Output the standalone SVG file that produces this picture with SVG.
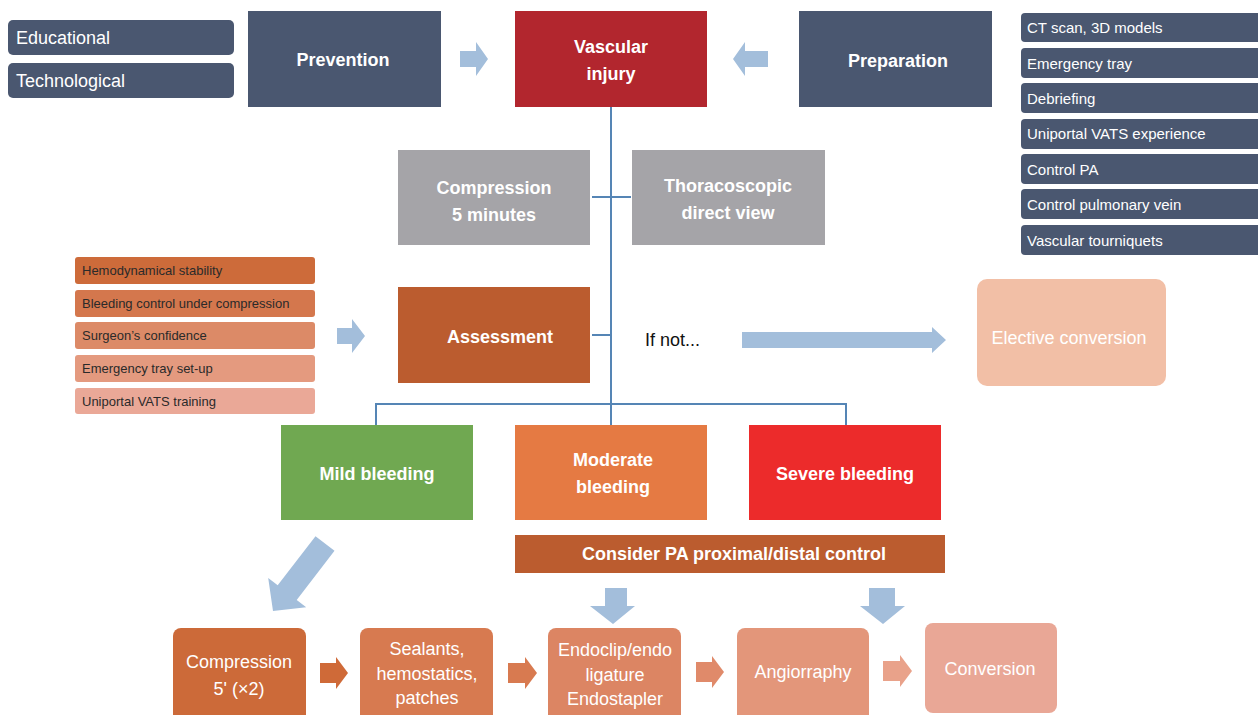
<svg xmlns="http://www.w3.org/2000/svg" width="1258" height="715" viewBox="0 0 1258 715">
<style>
text{font-family:"Liberation Sans",Arial,sans-serif;}
.b{font-weight:bold;font-size:18px;fill:#fff;text-anchor:middle;}
.w{font-size:18px;fill:#fff;text-anchor:middle;}
.lst{font-size:15px;fill:#fff;}
.sm{font-size:13px;fill:#2a2a2a;}
.navy{fill:#4a5770;}
.arr{fill:#a3bedb;}
.ln{stroke:#5585b5;stroke-width:2;fill:none;}
</style>
<rect width="1258" height="715" fill="#fff"/>
<g id="connectors">
<path class="ln" d="M611,107 V425 M592,197 H631 M592,335 H611 M376,425 V404 H846 V425"/>
<path class="arr" d="M460,51 H476 V42 L488,59 L476,76 V67 H460 Z"/>
<path class="arr" d="M768,51 H745 V42 L733,59 L745,76 V67 H768 Z"/>
<path class="arr" d="M337,328 H352 V319 L365,336 L352,353 V344 H337 Z"/>
<path class="arr" d="M742,332 H932 V327 L946,340 L932,353 V348 H742 Z"/>
<path class="arr" d="M315.5,536.2 L334.5,550.8 L296.7,599.9 L306.2,607.2 L273,611 L268.2,578 L277.7,585.3 Z"/>
<path class="arr" d="M605,588 H627 V606 H635 L613,624 L590,606 H605 Z"/>
<path class="arr" d="M869,588 H895 V606 H905 L883,624 L860,606 H869 Z"/>
<path fill="#cf6a38" d="M320,663 H336 V657 L348,673 L336,689 V683 H320 Z"/>
<path fill="#d87a50" d="M508,663 H525 V657 L537,673 L525,689 V683 H508 Z"/>
<path fill="#e08a6a" d="M696,662 H712 V656 L724,672 L712,688 V682 H696 Z"/>
<path fill="#e9a28a" d="M883,661 H900 V655 L912,671 L900,687 V681 H883 Z"/>
</g>
<g id="educational"><rect class="navy" x="8" y="20" width="226" height="35" rx="5"/><text class="lst" x="16" y="44" style="font-size:18px">Educational</text></g>
<g id="technological"><rect class="navy" x="8" y="63" width="226" height="35" rx="5"/><text class="lst" x="16" y="87" style="font-size:18px">Technological</text></g>
<g id="prevention"><rect class="navy" x="248" y="11" width="193" height="96"/><text class="b" x="343" y="66">Prevention</text></g>
<g id="vascular-injury"><rect fill="#b2262e" x="515" y="11" width="192" height="96"/><text class="b" x="611" y="53">Vascular</text><text class="b" x="611" y="80">injury</text></g>
<g id="preparation"><rect class="navy" x="799" y="11" width="193" height="96"/><text class="b" x="898" y="67">Preparation</text></g>
<g id="prep-list">
<rect class="navy" x="1021" y="13" width="245" height="29" rx="4"/><text class="lst" x="1027" y="33">CT scan, 3D models</text>
<rect class="navy" x="1021" y="48" width="245" height="30" rx="4"/><text class="lst" x="1027" y="69">Emergency tray</text>
<rect class="navy" x="1021" y="83" width="245" height="30" rx="4"/><text class="lst" x="1027" y="104">Debriefing</text>
<rect class="navy" x="1021" y="119" width="245" height="30" rx="4"/><text class="lst" x="1027" y="139">Uniportal VATS experience</text>
<rect class="navy" x="1021" y="154" width="245" height="30" rx="4"/><text class="lst" x="1027" y="175">Control PA</text>
<rect class="navy" x="1021" y="189" width="245" height="30" rx="4"/><text class="lst" x="1027" y="210">Control pulmonary vein</text>
<rect class="navy" x="1021" y="225" width="245" height="30" rx="4"/><text class="lst" x="1027" y="246">Vascular tourniquets</text>
</g>
<g id="compression-5min"><rect fill="#a5a4a8" x="398" y="150" width="192" height="95"/><text class="b" x="494" y="194">Compression</text><text class="b" x="494" y="221">5 minutes</text></g>
<g id="thoracoscopic"><rect fill="#a5a4a8" x="632" y="150" width="193" height="95"/><text class="b" x="728" y="192">Thoracoscopic</text><text class="b" x="728" y="219">direct view</text></g>
<g id="assessment-list">
<rect fill="#cd6b3a" x="75" y="257" width="240" height="27" rx="3"/><text class="sm" x="82" y="275">Hemodynamical stability</text>
<rect fill="#d4774d" x="75" y="290" width="240" height="27" rx="3"/><text class="sm" x="82" y="308">Bleeding control under compression</text>
<rect fill="#dc8a67" x="75" y="322" width="240" height="27" rx="3"/><text class="sm" x="82" y="340">Surgeon’s confidence</text>
<rect fill="#e49a7f" x="75" y="355" width="240" height="27" rx="3"/><text class="sm" x="82" y="373">Emergency tray set-up</text>
<rect fill="#eaa897" x="75" y="388" width="240" height="26" rx="3"/><text class="sm" x="82" y="406">Uniportal VATS training</text>
</g>
<g id="assessment"><rect fill="#bb5c2f" x="398" y="287" width="192" height="96"/><text class="b" x="500" y="343">Assessment</text></g>
<g id="if-not"><text x="645" y="346" style="font-size:18px;fill:#111">If not...</text></g>
<g id="elective-conversion"><rect fill="#f2bfa6" x="977" y="279" width="189" height="107" rx="10"/><text class="w" x="1069" y="344">Elective conversion</text></g>
<g id="mild"><rect fill="#70a851" x="281" y="425" width="192" height="95"/><text class="b" x="377" y="480">Mild bleeding</text></g>
<g id="moderate"><rect fill="#e57a43" x="515" y="425" width="192" height="95"/><text class="b" x="613" y="466">Moderate</text><text class="b" x="613" y="493">bleeding</text></g>
<g id="severe"><rect fill="#ec2b2b" x="749" y="425" width="192" height="95"/><text class="b" x="845" y="480">Severe bleeding</text></g>
<g id="consider-pa"><rect fill="#bb5c2f" x="515" y="535" width="430" height="38"/><text class="b" x="734" y="560">Consider PA proximal/distal control</text></g>
<g id="compression-x2"><rect fill="#cc6a39" x="173" y="628" width="133" height="95" rx="8"/><text class="w" x="239" y="668">Compression</text><text class="w" x="239" y="695">5' (×2)</text></g>
<g id="sealants"><rect fill="#d77a50" x="360" y="628" width="133" height="95" rx="8"/><text class="w" x="427" y="655">Sealants,</text><text class="w" x="427" y="680">hemostatics,</text><text class="w" x="427" y="704">patches</text></g>
<g id="endoclip"><rect fill="#dc8563" x="548" y="628" width="133" height="95" rx="8"/><text class="w" x="615" y="656">Endoclip/endo</text><text class="w" x="615" y="681">ligature</text><text class="w" x="615" y="705">Endostapler</text></g>
<g id="angiorraphy"><rect fill="#e3967a" x="737" y="628" width="132" height="95" rx="8"/><text class="w" x="803" y="678">Angiorraphy</text></g>
<g id="conversion"><rect fill="#e9a796" x="925" y="623" width="132" height="90" rx="8"/><text class="w" x="990" y="675">Conversion</text></g>
</svg>
